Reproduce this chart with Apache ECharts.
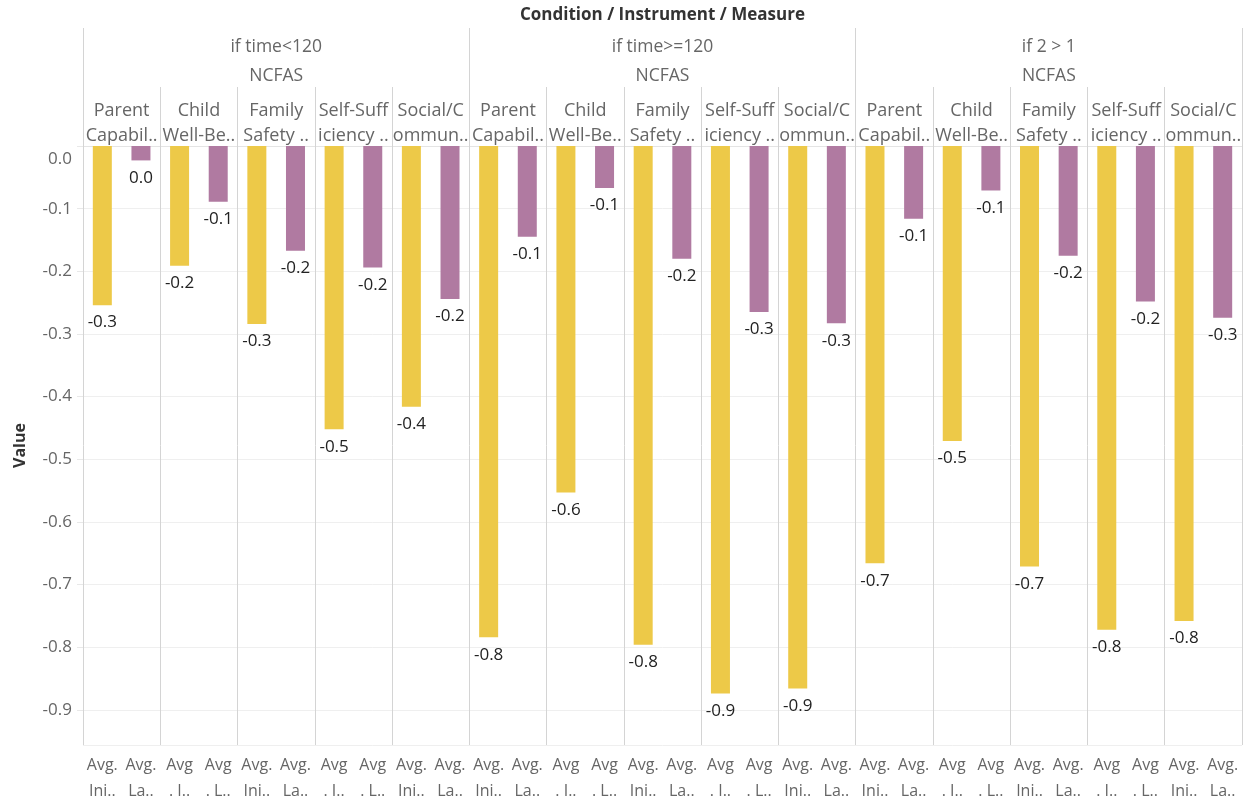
<!DOCTYPE html>
<html>
<head>
<meta charset="utf-8">
<script src="https://cdn.jsdelivr.net/npm/echarts@6/dist/echarts.min.js"></script>
<style>
  html, body { margin: 0; padding: 0; background: #fff; }
  #main { width: 1252px; height: 804px; }
</style>
</head>
<body>
<div id="main"></div>
<script>
// conditions / instrument / domain headers
var conditions = ['if time<120', 'if time>=120', 'if 2 > 1'];
var instrument = 'NCFAS';
var domains = ['Parent\nCapabil..', 'Child\nWell-Be..', 'Family\nSafety ..', 'Self-Suff\niciency ..', 'Social/C\nommun..'];
// measure tick labels per domain (as they are cut in the picture)
var measureTicks = [
    ['Avg.\nIni..', 'Avg.\nLa..'],
    ['Avg\n. I..', 'Avg\n. L..'],
    ['Avg.\nIni..', 'Avg.\nLa..'],
    ['Avg\n. I..', 'Avg\n. L..'],
    ['Avg.\nIni..', 'Avg.\nLa..']
];
// values, condition by condition, domain by domain
var avgInitial = [-0.254, -0.191, -0.284, -0.452, -0.416,
                  -0.784, -0.553, -0.796, -0.874, -0.866,
                  -0.666, -0.471, -0.671, -0.772, -0.758];
var avgLast = [-0.023, -0.089, -0.167, -0.194, -0.244,
               -0.145, -0.067, -0.180, -0.265, -0.283,
               -0.116, -0.071, -0.175, -0.248, -0.274];

var YELLOW = '#edc948', PURPLE = '#b07aa1';
var LINE = '#d4d4d4';
var FONT = 'Open Sans';

// build the flat category list
var barCats = [], barVals = [], domainCats = [], condCats = [];
conditions.forEach(function (c, ci) {
    condCats.push(c + '\n' + instrument);
    domains.forEach(function (d, di) {
        domainCats.push(d);
        var k = ci * domains.length + di;
        barCats.push(measureTicks[di][0]);
        barVals.push(avgInitial[k]);
        barCats.push(measureTicks[di][1]);
        barVals.push(avgLast[k]);
    });
});

function fmt1(v) {
    var r = Math.round(v * 10) / 10;
    if (r === 0) r = 0;
    return r.toFixed(1);
}

var chart = echarts.init(document.getElementById('main'));
chart.setOption({
    animation: false,
    grid: {
        left: 83,
        right: 10,
        top: 146,
        bottom: 59,
        outerBoundsMode: 'none'
    },
    xAxis: [
        {
            type: 'category',
            position: 'bottom',
            data: barCats,
            axisLine: { lineStyle: { color: LINE, width: 1 } },
            axisTick: {
                show: true,
                length: 59,
                interval: function (i) { return i % 2 === 0; },
                lineStyle: { color: LINE }
            },
            splitLine: {
                show: true,
                interval: function (i) { return i % 2 === 0; },
                lineStyle: { color: LINE, width: 1 }
            },
            axisLabel: {
                interval: 0,
                margin: 7,
                fontFamily: FONT,
                fontSize: 16,
                lineHeight: 26,
                color: '#666'
            }
        },
        {
            type: 'category',
            position: 'top',
            data: domainCats,
            axisLine: { lineStyle: { color: '#e4e4e4', width: 1 } },
            axisTick: { show: true, length: 59, interval: 0, lineStyle: { color: LINE } },
            axisLabel: {
                interval: 0,
                margin: -2,
                fontFamily: FONT,
                fontSize: 18,
                lineHeight: 25,
                color: '#666'
            }
        },
        {
            type: 'category',
            position: 'top',
            data: condCats,
            name: 'Condition / Instrument / Measure',
            nameLocation: 'middle',
            nameGap: 122,
            nameTextStyle: {
                fontFamily: FONT,
                fontSize: 17,
                fontWeight: 'bold',
                color: '#333'
            },
            axisLine: { show: false },
            axisTick: { show: true, length: 118, interval: 0, lineStyle: { color: LINE } },
            axisLabel: {
                interval: 0,
                margin: 55,
                fontFamily: FONT,
                fontSize: 17.5,
                lineHeight: 29,
                color: '#666'
            }
        }
    ],
    yAxis: {
        type: 'value',
        min: -0.956,
        max: 0,
        minInterval: 0.1,
        maxInterval: 0.1,
        name: 'Value',
        nameLocation: 'middle',
        nameGap: 55,
        nameTextStyle: {
            fontFamily: FONT,
            fontSize: 16,
            fontWeight: 'bold',
            color: '#333'
        },
        axisLine: { show: false },
        axisTick: { show: true, length: 6, lineStyle: { color: '#e8e8e8' } },
        splitLine: { lineStyle: { color: '#efefef', width: 1 } },
        axisLabel: {
            showMinLabel: false,
            margin: 11,
            fontFamily: FONT,
            fontSize: 17,
            color: '#666',
            formatter: function (v) {
                if (v === 0) return '{z|0.0}';
                return fmt1(v);
            },
            rich: {
                z: { fontFamily: FONT, fontSize: 17, color: '#666', padding: [26, 0, 0, 0] }
            }
        }
    },
    series: [
        {
            type: 'bar',
            xAxisIndex: 0,
            data: barVals,
            barWidth: 19,
            itemStyle: {
                color: function (p) { return p.dataIndex % 2 ? PURPLE : YELLOW; }
            },
            label: {
                show: true,
                position: 'bottom',
                distance: 9,
                fontFamily: FONT,
                fontSize: 17,
                color: '#222',
                formatter: function (p) { return fmt1(p.value); }
            }
        }
    ]
});
</script>
</body>
</html>
